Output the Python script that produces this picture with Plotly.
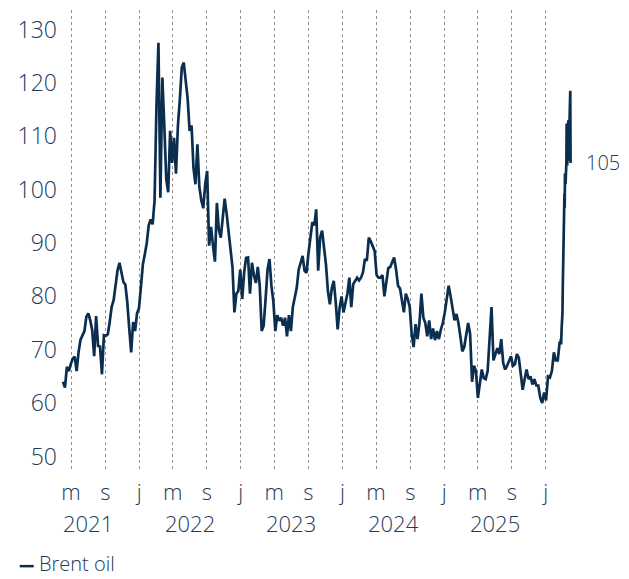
import pandas as pd
import plotly.graph_objects as go

# Brent oil, USD per barrel: weekly closes from April 2021, then daily closes for the final weeks
weekly_start = "2021-04-02"
weekly_prices = [
    64, 62.9, 66.8, 66, 67.3, 68.3, 68.7, 66, 69.6, 71.9,
    72.7, 73.5, 76.2, 76.8, 75.5, 73.6, 68.8, 76.3, 70.7, 70.6,
    65.4, 72.7, 72.6, 72.9, 75.3, 78.1, 79.3, 82.4, 84.9, 86.3,
    84.4, 82.7, 82.2, 78.9, 74, 69.5, 75.2, 73.5, 76.8, 77.8,
    81.8, 86, 87.9, 90, 93.3, 94.4, 93.5, 97.9, 116, 127.5,
    98.5, 121, 112, 102, 99.5, 111, 105, 109.7, 103, 112,
    117, 122.9, 123.8, 120.4, 117, 111, 112, 104, 101, 108.5,
    100.5, 98, 96.5, 101, 103.5, 89.5, 93, 89.5, 86.5, 97.5,
    92.5, 91, 95, 98.3, 95.5, 92, 88, 85.5, 77, 80.5,
    81, 85, 79.5, 84.5, 87.2, 87.3, 80.5, 86.3, 84, 82.5,
    85.5, 82, 73.5, 74.5, 79.5, 85, 87, 82, 79, 73.5,
    76.5, 75.4, 76, 74.5, 76, 72.5, 76.5, 73.5, 78, 80,
    81.6, 85, 86.5, 87.6, 84.8, 84.4, 88, 90.7, 93.9, 93.3,
    96.3, 84.8, 91, 92.3, 89.5, 86, 81, 78.5, 81.5, 82.9,
    79, 73.8, 77.8, 80, 77, 78.7, 80.5, 83.5, 78, 82.3,
    83, 83.5, 83, 83.5, 84.5, 87, 86.7, 91, 90.3, 89.5,
    88.5, 84, 83.5, 83.5, 84, 80, 82.5, 85.3, 85.5, 86.3,
    87.3, 85, 82, 81.5, 79, 77, 80.5, 79.5, 78, 73,
    70.5, 74.8, 72, 75, 80.5, 76, 75, 72.5, 75.5, 72,
    74, 71.8, 73.5, 72, 73.8, 75, 77, 79.7, 82, 80,
    77.5, 75.5, 76.7, 75, 72.5, 69.7, 70.5, 72.5, 75, 73,
    64, 67, 66, 61, 64, 66.3, 64.7, 64.5, 66, 72,
    78, 68, 69.2, 70.3, 69.2, 72, 67.5, 66.3, 67, 68,
    68.8, 67, 67.3, 69.2, 68.5, 65.5, 62.5, 64.5, 66.3, 64.5,
    65, 63.5, 64.5, 63.3, 63.3, 61, 60, 62, 60.5, 65,
    64.8, 66, 69.5, 68, 68, 71.5,
]
tail_dates = [
    "2026-02-23", "2026-02-24", "2026-02-25", "2026-02-26", "2026-02-27",
    "2026-03-02", "2026-03-03", "2026-03-04", "2026-03-05", "2026-03-06",
    "2026-03-09", "2026-03-10", "2026-03-11", "2026-03-12", "2026-03-13",
    "2026-03-16", "2026-03-17", "2026-03-18", "2026-03-19", "2026-03-20",
    "2026-03-23", "2026-03-24", "2026-03-25", "2026-03-26", "2026-03-27",
    "2026-03-30", "2026-03-31",
]
tail_prices = [
    71, 72, 71, 72.5, 74,
    77, 81.6, 85, 88, 95,
    99.2, 96.6, 103, 100, 101,
    105, 112.4, 106, 104.5, 108,
    113, 107, 105.4, 110, 112,
    118.5, 105,
]

# Month ticks (j = January, m = May, s = September) and year captions
tick_dates = [
    "2021-05-01", "2021-09-01", "2022-01-01", "2022-05-01", "2022-09-01",
    "2023-01-01", "2023-05-01", "2023-09-01", "2024-01-01", "2024-05-01",
    "2024-09-01", "2025-01-01", "2025-05-01", "2025-09-01", "2026-01-01",
]
tick_letters = ["m", "s", "j", "m", "s", "j", "m", "s", "j", "m", "s", "j", "m", "s", "j"]
year_labels = ["2021", "2022", "2023", "2024", "2025"]
year_centres = ["2021-07-01", "2022-07-01", "2023-07-01", "2024-07-01", "2025-07-01"]
y_ticks = [50, 60, 70, 80, 90, 100, 110, 120, 130]

LINE = "#0b2e4f"
TEXT = "#22395a"
FONT = "Open Sans"

dates = list(pd.date_range(weekly_start, periods=len(weekly_prices), freq="7D")) + list(
    pd.to_datetime(tail_dates)
)
prices = weekly_prices + tail_prices

fig = go.Figure()
fig.add_trace(
    go.Scatter(
        x=dates,
        y=prices,
        mode="lines",
        name="Brent oil",
        line=dict(color=LINE, width=2.7),
        showlegend=False,
    )
)

annotations = [
    dict(
        x=dates[-1], y=prices[-1], xref="x", yref="y",
        text=f"{prices[-1]:.0f}", showarrow=False,
        xanchor="left", yanchor="middle", xshift=13,
        font=dict(family=FONT, size=20, color=TEXT, weight=300),
    )
]
for label, centre in zip(year_labels, year_centres):
    annotations.append(
        dict(
            x=centre, y=-0.116, xref="x", yref="paper",
            text=label, showarrow=False,
            xanchor="center", yanchor="middle",
            font=dict(family=FONT, size=22, color=TEXT, weight=300),
        )
    )
# legend entry: short line plus series name
annotations.append(
    dict(
        x=-0.041, y=-0.203, xref="paper", yref="paper",
        text="Brent oil", showarrow=False,
        xanchor="left", yanchor="middle",
        font=dict(family=FONT, size=20, color=TEXT, weight=300),
    )
)

fig.update_layout(
    width=629,
    height=579,
    margin=dict(l=58, r=54, t=10, b=109),
    paper_bgcolor="white",
    plot_bgcolor="white",
    font=dict(family=FONT, color=TEXT, size=22, weight=300),
    annotations=annotations,
    shapes=[
        dict(
            type="line", xref="paper", yref="paper",
            x0=-0.074, x1=-0.047, y0=-0.209, y1=-0.209,
            line=dict(color=LINE, width=2.5),
        )
    ],
    xaxis=dict(
        type="date",
        range=["2021-03-15", "2026-04-16"],
        tickmode="array",
        tickvals=tick_dates,
        ticktext=tick_letters,
        ticks="outside",
        ticklen=3,
        tickcolor="rgba(0,0,0,0)",
        showgrid=True,
        gridcolor="#8f8f8f",
        gridwidth=1,
        griddash="3px,3px",
        showline=False,
        zeroline=False,
        tickfont=dict(family=FONT, size=22, color=TEXT, weight=300),
    ),
    yaxis=dict(
        range=[47.47, 133.65],
        tickmode="array",
        tickvals=y_ticks,
        ticks="",
        showgrid=False,
        zeroline=False,
        showline=False,
        tickfont=dict(family=FONT, size=23, color=TEXT, weight=300),
    ),
)

fig.write_html("out.html")
